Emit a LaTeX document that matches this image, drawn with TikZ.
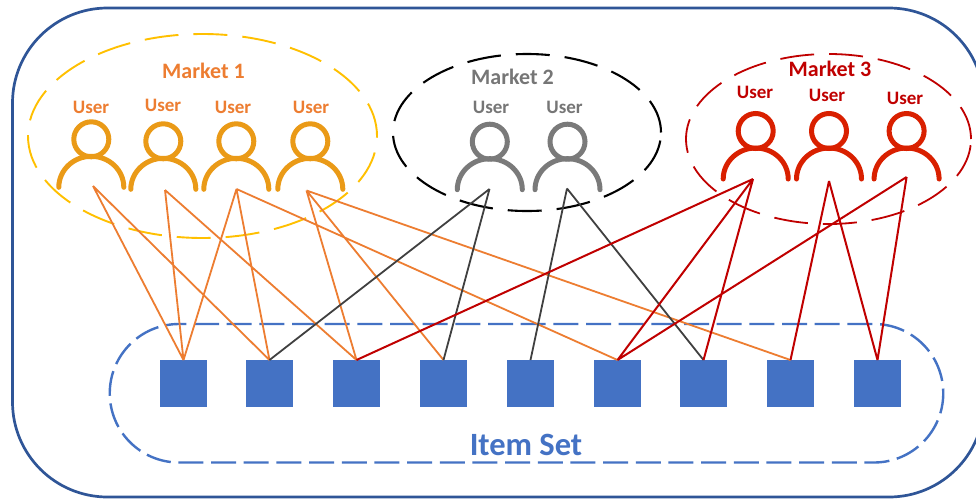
\documentclass[tikz,border=0pt]{standalone}
\usepackage{fontspec}
\setmainfont{Carlito}
\definecolor{frame}{HTML}{2F5597}
\definecolor{itemblue}{HTML}{4472C4}
\definecolor{mkorange}{HTML}{ED7D31}
\definecolor{mkyellow}{HTML}{FFC000}
\definecolor{mkgray}{HTML}{767676}
\definecolor{mkdark}{HTML}{404040}
\definecolor{mkred}{HTML}{C00000}
\definecolor{iconorange}{HTML}{EA9A17}
\definecolor{icongray}{HTML}{7A7A7A}
\definecolor{iconred}{HTML}{D92000}
\tikzset{
  itembox/.style={draw=none,fill=itemblue,minimum size=47pt,inner sep=0pt,outer sep=0pt},
  lbl/.style={font=\fontsize{19}{20}\selectfont\bfseries,inner sep=0pt},
  mlbl/.style={font=\fontsize{22}{23}\selectfont\bfseries,inner sep=0pt},
  marketring/.style={dash pattern=on 34pt off 15pt},
  oedge/.style={draw=mkorange,line width=1.8pt},
  kedge/.style={draw=mkdark,line width=1.8pt},
  redge/.style={draw=mkred,line width=2pt},
  iconline/.style={line width=5pt,line cap=round}
}
\newcommand{\usericon}[3]{% head x, head y, colour
  \draw[iconline,draw=#3] (#1,#2) circle[radius=17.5pt];
  \draw[iconline,draw=#3] (#1-32.5,#2+48) arc[start angle=180,end angle=0,x radius=32.5pt,y radius=31pt];
}
\begin{document}
\begin{tikzpicture}[x=1pt,y=-1pt]
\useasboundingbox (0,0) rectangle (976,498);
\fill[white] (0,0) rectangle (976,498);
% frame
\draw[draw=frame,line width=2.7pt,rounded corners=95pt] (12.5,8) rectangle (984,497);
% item set outline
\draw[draw=itemblue,line width=2.4pt,dash pattern=on 25pt off 7.67pt,dash phase=17.67pt]
  (179,324) -- (874,324) arc[start angle=90,end angle=-90,radius=69.25pt]
  -- (179,462.5) arc[start angle=270,end angle=90,radius=69.25pt] -- cycle;
% market rings
\draw[draw=mkyellow,line width=1.9pt,marketring] (202.5,136) ellipse[x radius=174.5pt,y radius=102pt];
\draw[draw=black,line width=2.1pt,marketring] (527,132.5) ellipse[x radius=134pt,y radius=78.5pt];
\draw[draw=mkred,line width=1.8pt,marketring] (828.5,139) ellipse[x radius=142.5pt,y radius=85pt];
% icons
\usericon{91.3}{139.3}{iconorange}
\usericon{163.3}{141.3}{iconorange}
\usericon{236.3}{141.3}{iconorange}
\usericon{310.3}{141.3}{iconorange}
\usericon{489.8}{141.7}{icongray}
\usericon{567.5}{141.7}{icongray}
\usericon{755.7}{131}{iconred}
\usericon{829}{131}{iconred}
\usericon{906.6}{131}{iconred}
% connector ends
\coordinate (a) at (93,186);
\coordinate (b) at (165,190);
\coordinate (c) at (236.5,189);
\coordinate (d) at (306.5,190.5);
\coordinate (e) at (489.5,189);
\coordinate (f) at (567,188.5);
\coordinate (g) at (753,179);
\coordinate (h) at (829,181);
\coordinate (j) at (906.6,177);
% items
\node[itembox] (i1) at (183.5,383.5) {};
\node[itembox] (i2) at (269.5,383.5) {};
\node[itembox] (i3) at (356.5,383.5) {};
\node[itembox] (i4) at (443.5,383.5) {};
\node[itembox] (i5) at (530.5,383.5) {};
\node[itembox] (i6) at (617.5,383.5) {};
\node[itembox] (i7) at (703.5,383.5) {};
\node[itembox] (i8) at (790.5,383.5) {};
\node[itembox] (i9) at (877.5,383.5) {};
% edges
\draw[oedge] (a)--(i1.north) (a)--(i2.north) (b)--(i1.north) (b)--(i3.north)
  (c)--(i1.north) (c)--(i2.north) (c)--(i6.north)
  (d)--(i3.north) (d)--(i4.north) (d)--(i8.north);
\draw[kedge] (e)--(i2.north) (e)--(i4.north) (f)--(i5.north) (f)--(i7.north);
\draw[redge] (g)--(i3.north) (g)--(i6.north) (g)--(i7.north)
  (h)--(i8.north) (h)--(i9.north) (j)--(i6.north) (j)--(i9.north);
% labels
\node[mlbl,text=mkorange] (m1) at (203.5,71) {Market 1};
\node[lbl,text=mkorange] (u1) at (91,107) {User};
\node[lbl,text=mkorange] (u2) at (163,105) {User};
\node[lbl,text=mkorange] (u3) at (233,107) {User};
\node[lbl,text=mkorange] (u4) at (311,107) {User};
\node[mlbl,text=mkgray] (m2) at (512.5,77) {Market 2};
\node[lbl,text=mkgray] (u5) at (491,107) {User};
\node[lbl,text=mkgray] (u6) at (564.5,107) {User};
\node[mlbl,text=mkred] (m3) at (830,69) {Market 3};
\node[lbl,text=mkred] (u7) at (755,92) {User};
\node[lbl,text=mkred] (u8) at (827,95) {User};
\node[lbl,text=mkred] (u9) at (905,98) {User};
\node[font=\fontsize{32.5}{34}\selectfont\bfseries,text=itemblue,inner sep=0pt] (set) at (526,445) {Item Set};
\end{tikzpicture}
\end{document}
